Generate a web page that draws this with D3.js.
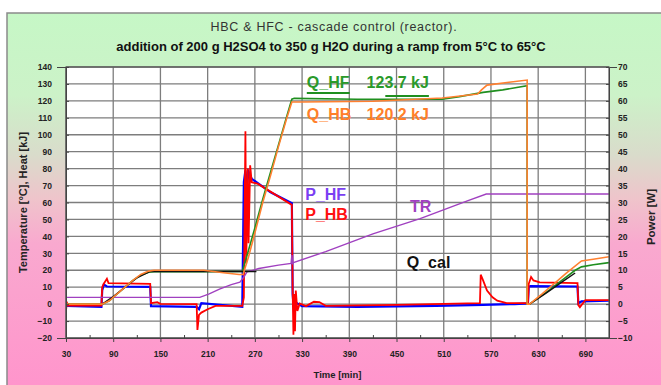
<!DOCTYPE html>
<html>
<head>
<meta charset="utf-8">
<script src="https://cdn.jsdelivr.net/npm/d3@7"></script>
<style>
  body { margin: 0; background: #fff; }
  svg { display: block; font-family: "Liberation Sans", Arial, sans-serif; }
</style>
</head>
<body>
<svg id="chart"></svg>
<script>
// Data (time in min)
const xTicks = [30, 90, 150, 210, 270, 330, 390, 450, 510, 570, 630, 690];
const leftTicks = [-20, -10, 0, 10, 20, 30, 40, 50, 60, 70, 80, 90, 100, 110, 120, 130, 140];
const rightTicks = [-10, -5, 0, 5, 10, 15, 20, 25, 30, 35, 40, 45, 50, 55, 60, 65, 70];

// P_HF [W]
const phfTime = [30, 75, 76, 78, 82, 137, 138, 196, 199, 202, 254, 256, 258, 260, 262, 266, 290, 317, 318, 320, 322, 330, 400, 500, 560, 600, 617, 618, 620, 680, 681, 685, 720];
const phfValue = [-0.5, -0.8, 4, 5.8, 5.2, 5.1, -0.6, -0.8, -1.5, 0.3, -0.8, 36, 39.5, 35, 39, 37, 33, 29.8, 3, -3, 0.5, -0.6, -0.8, -0.5, -0.2, 0, 0.2, 5, 5.3, 5.2, 0.3, 0.8, 1];

// P_HB [W]
const phbTime = [30, 31, 33, 75, 76, 78, 82, 84, 137, 138, 146, 150, 196, 197, 199, 202, 210, 220, 254, 256, 258, 259, 261, 262, 264, 266, 274, 317, 318, 319, 320, 321, 322, 324, 327, 335, 345, 352, 360, 450, 540, 556, 557, 560, 565, 572, 578, 590, 617, 618, 621, 624, 632, 680, 681, 683, 690, 720];
const phbValue = [-2, 0.5, -0.4, -0.4, 5, 6, 7.5, 6.2, 6, 0.3, 0.6, 0.1, 0, -7.6, -3.2, -2.5, -1.5, -0.5, -0.5, 2, 51, 12, 40, 18, 41, 36, 35.5, 29.3, 4, -9, 3, -8, 4, -2, 0.2, -0.6, 0.7, 0.6, -0.5, -0.2, 0.2, 0.3, 8.7, 7, 4, 2, 1, 0.3, 0.3, 6, 8, 7, 6.4, 6.2, -0.3, -0.9, 1.2, 1.2];

// TR [°C]
const trTime = [30, 200, 212, 225, 240, 251, 256, 260, 275, 300, 316, 317, 318, 319, 360, 420, 480, 540, 564, 720];
const trValue = [4, 4, 6, 8.8, 11.5, 13, 16, 19, 21, 23, 24, 29, 24, 24.5, 31, 41.5, 50.5, 61, 65, 65];

// Q_HF [kJ]
const qhfTime = [30, 76, 85, 95, 105, 115, 125, 135, 142, 200, 254, 262, 270, 280, 290, 300, 310, 317, 320, 400, 508, 530, 560, 585, 616, 616, 619, 630, 645, 660, 677, 685, 700, 720];
const qhfValue = [0, 0, 2, 6, 10, 14, 17, 18.8, 19.2, 19.2, 19.3, 32, 45, 62, 78, 94, 110, 121, 121.5, 121, 121, 122.5, 125, 126.5, 129, 0, 0, 3.5, 8.5, 14, 20, 22, 23.2, 24.5];

// Q_HB [kJ]
const qhbTime = [30, 76, 85, 95, 105, 115, 125, 135, 142, 205, 230, 250, 255, 262, 270, 280, 290, 300, 310, 317, 330, 420, 508, 520, 553, 558, 565, 593, 616, 616, 619, 635, 650, 665, 685, 700, 720];
const qhbValue = [0, 0, 2, 6, 10, 14, 17.5, 19.5, 20, 20, 18.5, 17.5, 17.5, 28, 42, 60, 76, 93, 109, 119.3, 119.3, 119.8, 121.7, 122.3, 124, 126.5, 129.3, 131, 132.3, 0, 0, 6, 12, 18, 25.5, 26.5, 28];

// Q_cal [kJ] (null = gap)
const qcalTime = [76, 90, 105, 120, 137, 272, 273, 619, 640, 660, 677, 678];
const qcalValue = [0, 4.5, 10, 15.5, 19.3, 19.3, null, 0, 6.5, 13, 18.4, null];

// series labels: name, value text, anchor time/value, axis
const labelName = ["Q_HF", "Q_HB", "P_HF", "P_HB", "TR", "Q_cal"];
const labelAmount = ["123.7 kJ", "120.2 kJ", "", "", "", ""];
const labelTime = [336, 336, 334, 334, 467, 463];
const amountTime = [412, 412];
const labelValue = [127.6, 108.7, 30.7, 24.8, 54.4, 21.3];
const labelAxis = ["left", "left", "right", "right", "left", "left"];

const width = 661;
const height = 385;
const plot = { left: 66, right: 609, top: 67, bottom: 338 };

const zip = (t, v) => t.map((d, i) => ({ t: d, v: v[i] }));

const svg = d3.select("#chart")
    .attr("width", width)
    .attr("height", height);

// background gradient
const defs = svg.append("defs");
const grad = defs.append("linearGradient")
    .attr("id", "bg")
    .attr("gradientUnits", "userSpaceOnUse")
    .attr("x1", 0).attr("y1", 13).attr("x2", 0).attr("y2", height);
[["0", "#c6f7c6"], ["0.22", "#ccf2c8"], ["0.38", "#d9dccb"], ["0.5", "#efc4cb"], ["0.62", "#f9a9cf"], ["1", "#ff95cc"]]
    .forEach(s => grad.append("stop").attr("offset", s[0]).attr("stop-color", s[1]));

svg.append("rect")
    .attr("x", 7).attr("y", 13)
    .attr("width", width + 20).attr("height", height + 20)
    .attr("fill", "url(#bg)")
    .attr("stroke", "#8a8a8a")
    .attr("stroke-width", 1.5);

// titles
svg.append("text")
    .attr("x", 334).attr("y", 31)
    .attr("text-anchor", "middle")
    .attr("font-size", 12.5)
    .attr("letter-spacing", 0.7)
    .attr("fill", "#333")
    .text("HBC & HFC - cascade control (reactor).");
svg.append("text")
    .attr("x", 331).attr("y", 51)
    .attr("text-anchor", "middle")
    .attr("font-size", 13)
    .attr("font-weight", "bold")
    .attr("fill", "#111")
    .text("addition of 200 g H2SO4 to 350 g H2O during a ramp from 5°C to 65°C");

// scales
const x = d3.scaleLinear().domain([30, 720]).range([plot.left, plot.right]);
const yL = d3.scaleLinear().domain([-20, 140]).range([plot.bottom, plot.top]);
const yR = d3.scaleLinear().domain([-10, 70]).range([plot.bottom, plot.top]);

svg.append("rect")
    .attr("x", plot.left).attr("y", plot.top)
    .attr("width", plot.right - plot.left).attr("height", plot.bottom - plot.top)
    .attr("fill", "#fff");

// grid
const grid = svg.append("g").attr("stroke", "#7d7d7d").attr("stroke-width", 1.3);
grid.selectAll(".h").data(leftTicks).enter().append("line")
    .attr("x1", plot.left).attr("x2", plot.right)
    .attr("y1", d => yL(d)).attr("y2", d => yL(d));
grid.selectAll(".v").data(xTicks).enter().append("line")
    .attr("x1", d => x(d)).attr("x2", d => x(d))
    .attr("y1", plot.top).attr("y2", plot.bottom);

// series
const lineL = d3.line().defined(d => d.v !== null).x(d => x(d.t)).y(d => yL(d.v));
const lineR = d3.line().x(d => x(d.t)).y(d => yR(d.v));

const clip = defs.append("clipPath").attr("id", "clip");
clip.append("rect")
    .attr("x", plot.left).attr("y", plot.top)
    .attr("width", plot.right - plot.left).attr("height", plot.bottom - plot.top);

const series = svg.append("g").attr("clip-path", "url(#clip)").attr("fill", "none");

series.append("path").datum(zip(phfTime, phfValue))
    .attr("d", lineR).attr("stroke", "#0000ff").attr("stroke-width", 2.2);
series.append("path").datum(zip(phbTime, phbValue))
    .attr("d", lineR).attr("stroke", "#ff0000").attr("stroke-width", 1.8);
series.append("path").datum(zip(trTime, trValue))
    .attr("d", lineL).attr("stroke", "#a040c0").attr("stroke-width", 1.4);
series.append("path").datum(zip(qhfTime, qhfValue))
    .attr("d", lineL).attr("stroke", "#1f8f1f").attr("stroke-width", 1.6);
series.append("path").datum(zip(qcalTime, qcalValue))
    .attr("d", lineL).attr("stroke", "#111").attr("stroke-width", 1.4);
series.append("path").datum(zip(qhbTime, qhbValue))
    .attr("d", lineL).attr("stroke", "#ff8030").attr("stroke-width", 1.6);

// plot border
svg.append("rect")
    .attr("x", plot.left).attr("y", plot.top)
    .attr("width", plot.right - plot.left).attr("height", plot.bottom - plot.top)
    .attr("fill", "none").attr("stroke", "#555").attr("stroke-width", 1.2);

// axes
const styleAxis = g => {
    g.selectAll(".domain").attr("stroke", "#444");
    g.selectAll(".tick line").attr("stroke", "#444");
    g.selectAll("text").attr("font-size", 8.5).attr("font-weight", "bold").attr("fill", "#222")
        .attr("font-family", "'Liberation Sans', Arial, sans-serif");
};

svg.append("g")
    .attr("transform", `translate(${plot.left},0)`)
    .call(d3.axisLeft(yL).tickValues(leftTicks).tickSizeInner(-3).tickSizeOuter(9).tickPadding(14))
    .call(styleAxis);
svg.append("g")
    .attr("transform", `translate(${plot.right},0)`)
    .call(d3.axisRight(yR).tickValues(rightTicks).tickSizeInner(-3).tickSizeOuter(8).tickPadding(9))
    .call(styleAxis);
svg.append("g")
    .attr("transform", `translate(0,${plot.bottom})`)
    .call(d3.axisBottom(x).tickValues(xTicks).tickSizeInner(4).tickSizeOuter(0).tickPadding(9))
    .call(styleAxis);
// minor x ticks
svg.append("g")
    .attr("transform", `translate(0,${plot.bottom})`)
    .call(d3.axisBottom(x).tickValues(xTicks.map(d => d + 30).filter(d => d < 720)).tickSize(-3).tickFormat(""))
    .call(g => g.select(".domain").remove())
    .call(styleAxis);

// axis titles
svg.append("text")
    .attr("transform", `translate(27,${(plot.top + plot.bottom) / 2}) rotate(-90)`)
    .attr("text-anchor", "middle")
    .attr("font-size", 11).attr("font-weight", "bold").attr("fill", "#222")
    .text("Temperature [°C], Heat [kJ]");
svg.append("text")
    .attr("transform", `translate(655,217) rotate(-90)`)
    .attr("text-anchor", "middle")
    .attr("font-size", 11.5).attr("font-weight", "bold").attr("fill", "#222")
    .text("Power [W]");
svg.append("text")
    .attr("x", (plot.left + plot.right) / 2).attr("y", 378)
    .attr("text-anchor", "middle")
    .attr("font-size", 9.5).attr("font-weight", "bold").attr("fill", "#222")
    .text("Time [min]");

// series labels
const labelColor = ["#2a9a2a", "#ff7f2a", "#7b3ff2", "#ff1010", "#a040c0", "#111"];
labelName.forEach((name, i) => {
    const yy = labelAxis[i] === "left" ? yL(labelValue[i]) : yR(labelValue[i]);
    const nameText = svg.append("text")
        .attr("x", x(labelTime[i])).attr("y", yy)
        .attr("font-size", 16).attr("font-weight", "bold")
        .attr("fill", labelColor[i])
        .text(name);
    if (labelAmount[i]) {
        const amt = svg.append("text")
            .attr("x", x(amountTime[i])).attr("y", yy)
            .attr("font-size", 16).attr("font-weight", "bold")
            .attr("fill", labelColor[i])
            .text(labelAmount[i]);
        if (i === 0) {
            // green strokes under the Q_HF label
            const nb = nameText.node().getBBox();
            const ab = amt.node().getBBox();
            svg.append("line")
                .attr("x1", nb.x).attr("x2", nb.x + nb.width)
                .attr("y1", yy + 5).attr("y2", yy + 5)
                .attr("stroke", "#1f8f1f").attr("stroke-width", 2);
            svg.append("line")
                .attr("x1", ab.x + ab.width * 0.3).attr("x2", ab.x + ab.width)
                .attr("y1", yy + 8).attr("y2", yy + 8)
                .attr("stroke", "#1f8f1f").attr("stroke-width", 2);
        }
    }
});
</script>
</body>
</html>
